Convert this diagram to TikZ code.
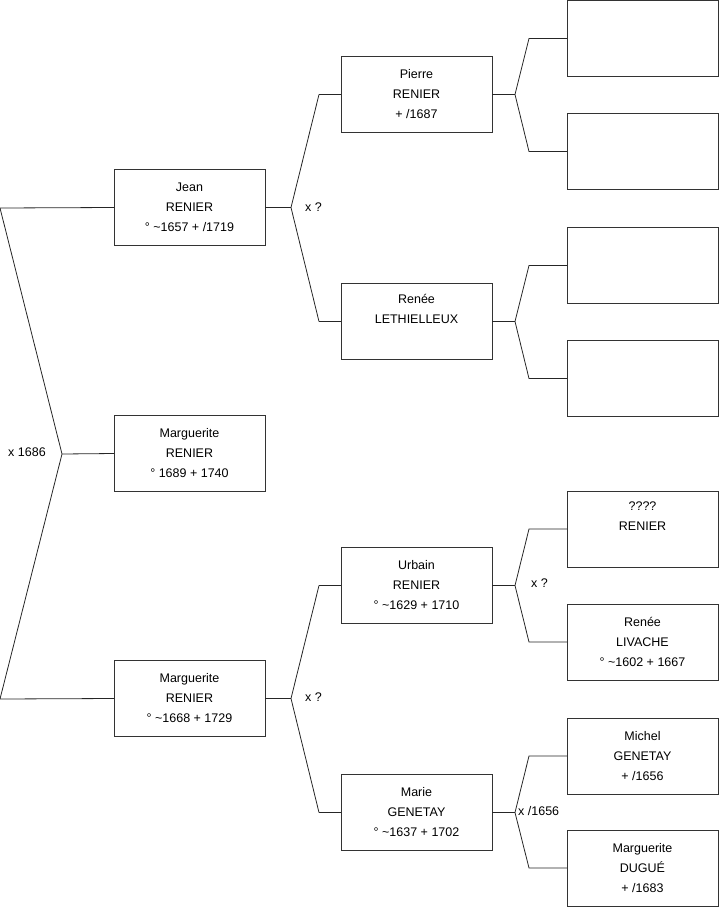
\documentclass[tikz,border=0pt]{standalone}
\usepackage{fontspec}
\setmainfont{Liberation Sans}
\usetikzlibrary{positioning}

\begin{document}
\begin{tikzpicture}[
                x=1pt, y=-1pt,
                person/.style={rectangle, draw=black!80, line width=0.8pt, minimum width=151pt, minimum height=76pt, inner sep=0pt, outer sep=0pt, align=center, font=\fontsize{12.5}{20}\selectfont},
                union/.style={anchor=west, inner sep=0pt, font=\fontsize{12.5}{15}\selectfont},
                line/.style={draw, black!85, line width=0.8pt}
            ]
                \useasboundingbox (0,0) rectangle (719,908);

                % Place nodes: child and parents
                \node [person] (G1_jean) at (189.5,207.5) {Jean\\RENIER\\° \textasciitilde1657 + /1719};
                \node [person, below=170pt of G1_jean] (G1_marg) {Marguerite\\RENIER\\° 1689 + 1740};
                \node [person, below=169pt of G1_marg] (G1_margb) {Marguerite\\RENIER\\° \textasciitilde1668 + 1729};

                % grandparents
                \node [person] (G2_pierre) at (416.5,94.5) {Pierre\\RENIER\\ + /1687};
                \node [person, below=151pt of G2_pierre] (G2_renee) {Renée\\LETHIELLEUX\\\strut};
                \node [person] (G2_urbain) at (416.5,585.5) {Urbain\\RENIER\\° \textasciitilde1629 + 1710};
                \node [person, below=151pt of G2_urbain] (G2_marie) {Marie\\GENETAY\\° \textasciitilde1637 + 1702};

                % great-grandparents
                \node [person] (G3_a) at (642.5,38.5) {};
                \node [person, below=37pt of G3_a] (G3_b) {};
                \node [person, below=38pt of G3_b] (G3_c) {};
                \node [person, below=37pt of G3_c] (G3_d) {};
                \node [person] (G3_e) at (642.5,529) {????\\RENIER\\\strut};
                \node [person, below=37pt of G3_e] (G3_f) {Renée\\LIVACHE\\° \textasciitilde1602 + 1667};
                \node [person, below=38pt of G3_f] (G3_g) {Michel\\GENETAY\\ + /1656};
                \node [person, below=36pt of G3_g] (G3_h) {Marguerite\\DUGUÉ\\ + /1683};

                % Fork points
                \coordinate (F1_top) at (0,208);
                \coordinate (F1_mid) at (62,454);
                \coordinate (F1_bot) at (0,699);
                \coordinate (F2_jean) at ([xshift=26pt]G1_jean.east);
                \coordinate (F2_margb) at ([xshift=26pt]G1_margb.east);
                \coordinate (F3_pierre) at ([xshift=23pt]G2_pierre.east);
                \coordinate (F3_renee) at ([xshift=23pt]G2_renee.east);
                \coordinate (F3_urbain) at ([xshift=23pt]G2_urbain.east);
                \coordinate (F3_marie) at ([xshift=23pt]G2_marie.east);

                % Draw edges
                \path [line] (G1_jean.west) -- (F1_top) -- (F1_mid) -- (F1_bot) -- (G1_margb.west);
                \path [line] (F1_mid) -- (G1_marg.west);

                \path [line] (G1_jean.east) -- (F2_jean);
                \path [line] ([xshift=-22pt]G2_pierre.west) -- (F2_jean) -- ([xshift=-22pt]G2_renee.west);
                \path [line] ([xshift=-22pt]G2_pierre.west) -- (G2_pierre.west);
                \path [line] ([xshift=-22pt]G2_renee.west) -- (G2_renee.west);

                \path [line] (G1_margb.east) -- (F2_margb);
                \path [line] ([xshift=-22pt]G2_urbain.west) -- (F2_margb) -- ([xshift=-22pt]G2_marie.west);
                \path [line] ([xshift=-22pt]G2_urbain.west) -- (G2_urbain.west);
                \path [line] ([xshift=-22pt]G2_marie.west) -- (G2_marie.west);

                \path [line] (G2_pierre.east) -- (F3_pierre);
                \path [line] (G3_a.west) -- ([xshift=-38pt]G3_a.west) -- (F3_pierre) -- ([xshift=-38pt]G3_b.west) -- (G3_b.west);
                \path [line] (G2_renee.east) -- (F3_renee);
                \path [line] (G3_c.west) -- ([xshift=-38pt]G3_c.west) -- (F3_renee) -- ([xshift=-38pt]G3_d.west) -- (G3_d.west);
                \path [line] (G2_urbain.east) -- (F3_urbain);
                \path [line] (G3_e.west) -- ([xshift=-38pt]G3_e.west) -- (F3_urbain) -- ([xshift=-38pt]G3_f.west) -- (G3_f.west);
                \path [line] (G2_marie.east) -- (F3_marie);
                \path [line] (G3_g.west) -- ([xshift=-38pt]G3_g.west) -- (F3_marie) -- ([xshift=-38pt]G3_h.west) -- (G3_h.west);

                % Marriages
                \node [union] (M_1686) at (8,452) {x 1686};
                \node [union] (M_jean) at (305,207) {x ?};
                \node [union] (M_margb) at (305,697) {x ?};
                \node [union] (M_urbain) at (531,583) {x ?};
                \node [union] (M_marie) at (518,811) {x /1656};

            \end{tikzpicture}
\end{document}
